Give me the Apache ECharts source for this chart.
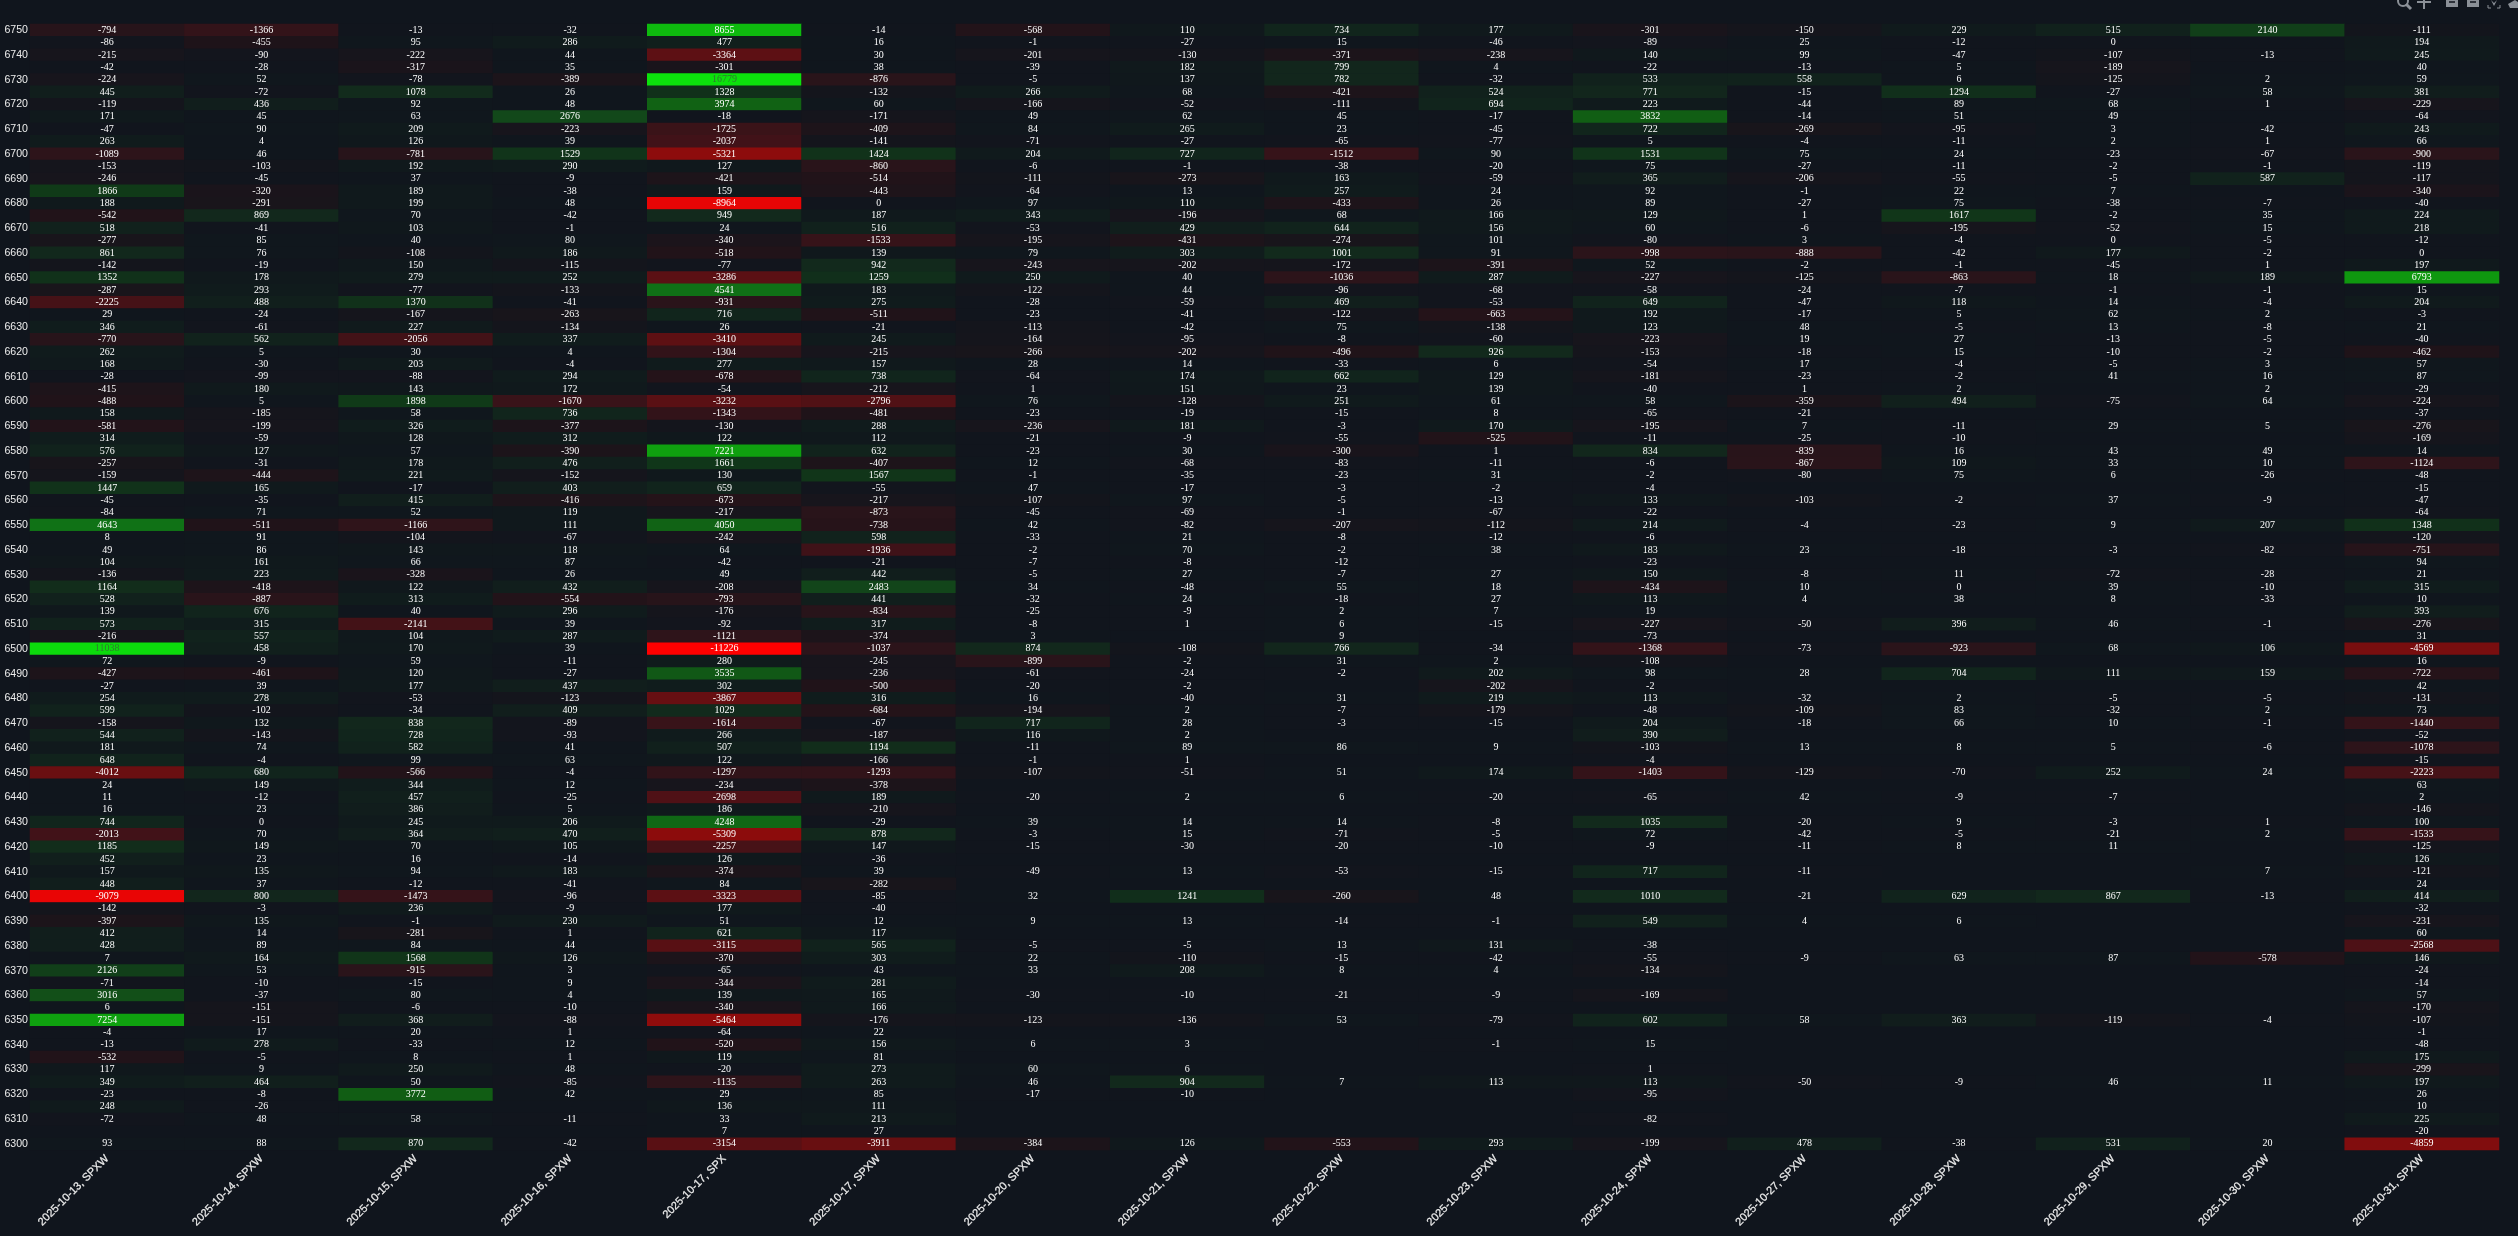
<!DOCTYPE html>
<html>
<head>
<meta charset="utf-8">
<style>html,body{margin:0;padding:0;background:#10151d;}#c{width:2518px;height:1236px;}</style>
<script src="https://cdn.jsdelivr.net/npm/echarts@6/dist/echarts.min.js"></script>
</head>
<body>
<div id="c"></div>
<script>
const _ = null;
const expiries = ["2025-10-13, SPXW","2025-10-14, SPXW","2025-10-15, SPXW","2025-10-16, SPXW","2025-10-17, SPX","2025-10-17, SPXW","2025-10-20, SPXW","2025-10-21, SPXW","2025-10-22, SPXW","2025-10-23, SPXW","2025-10-24, SPXW","2025-10-27, SPXW","2025-10-28, SPXW","2025-10-29, SPXW","2025-10-30, SPXW","2025-10-31, SPXW"];
const strikes = [6750,6745,6740,6735,6730,6725,6720,6715,6710,6705,6700,6695,6690,6685,6680,6675,6670,6665,6660,6655,6650,6645,6640,6635,6630,6625,6620,6615,6610,6605,6600,6595,6590,6585,6580,6575,6570,6565,6560,6555,6550,6545,6540,6535,6530,6525,6520,6515,6510,6505,6500,6495,6490,6485,6480,6475,6470,6465,6460,6455,6450,6445,6440,6435,6430,6425,6420,6415,6410,6405,6400,6395,6390,6385,6380,6375,6370,6365,6360,6355,6350,6345,6340,6335,6330,6325,6320,6315,6310,6305,6300];
const col1013 = [-794,-86,-215,-42,-224,445,-119,171,-47,263,-1089,-153,-246,1866,188,-542,518,-277,861,-142,1352,-287,-2225,29,346,-770,262,168,-28,-415,-488,158,-581,314,576,-257,-159,1447,-45,-84,4643,8,49,104,-136,1164,528,139,573,-216,11038,72,-427,-27,254,599,-158,544,181,648,-4012,24,11,16,744,-2013,1185,452,157,448,-9079,-142,-397,412,428,7,2126,-71,3016,6,7254,-4,-13,-532,117,349,-23,248,-72,_,93];
const col1014 = [-1366,-455,-90,-28,52,-72,436,45,90,4,46,-103,-45,-320,-291,869,-41,85,76,-19,178,293,488,-24,-61,562,5,-30,-99,180,5,-185,-199,-59,127,-31,-444,165,-35,71,-511,91,86,161,223,-418,-887,676,315,557,458,-9,-461,39,278,-102,132,-143,74,-4,680,149,-12,23,0,70,149,23,135,37,800,-3,135,14,89,164,53,-10,-37,-151,-151,17,278,-5,9,464,-8,-26,48,_,88];
const col1015 = [-13,95,-222,-317,-78,1078,92,63,209,126,-781,192,37,189,199,70,103,40,-108,150,279,-77,1370,-167,227,-2056,30,203,-88,143,1898,58,326,128,57,178,221,-17,415,52,-1166,-104,143,66,-328,122,313,40,-2141,104,170,59,120,177,-53,-34,838,728,582,99,-566,344,457,386,245,364,70,16,94,-12,-1473,236,-1,-281,84,1568,-915,-15,80,-6,368,20,-33,8,250,50,3772,_,58,_,870];
const col1016 = [-32,286,44,35,-389,26,48,2676,-223,39,1529,290,-9,-38,48,-42,-1,80,186,-115,252,-133,-41,-263,-134,337,4,-4,294,172,-1670,736,-377,312,-390,476,-152,403,-416,119,111,-67,118,87,26,432,-554,296,39,287,39,-11,-27,437,-123,409,-89,-93,41,63,-4,12,-25,5,206,470,105,-14,183,-41,-96,-9,230,1,44,126,3,9,4,-10,-88,1,12,1,48,-85,42,_,-11,_,-42];
const col1017x = [8655,477,-3364,-301,16779,1328,3974,-18,-1725,-2037,-5321,127,-421,159,-8964,949,24,-340,-518,-77,-3286,4541,-931,716,26,-3410,-1304,277,-678,-54,-3232,-1343,-130,122,7221,1661,130,659,-673,-217,4050,-242,64,-42,49,-208,-793,-176,-92,-1121,-11226,280,3535,302,-3867,1029,-1614,266,507,122,-1297,-234,-2698,186,4248,-5309,-2257,126,-374,84,-3323,177,51,621,-3115,-370,-65,-344,139,-340,-5464,-64,-520,119,-20,-1135,29,136,33,7,-3154];
const col1017w = [-14,16,30,38,-876,-132,60,-171,-409,-141,1424,-860,-514,-443,0,187,516,-1533,139,942,1259,183,275,-511,-21,245,-215,157,738,-212,-2796,-481,288,112,632,-407,1567,-55,-217,-873,-738,598,-1936,-21,442,2483,441,-834,317,-374,-1037,-245,-236,-500,316,-684,-67,-187,1194,-166,-1293,-378,189,-210,-29,878,147,-36,39,-282,-85,-40,12,117,565,303,43,281,165,166,-176,22,156,81,273,263,85,111,213,27,-3911];
const col1020 = [-568,-1,-201,-39,-5,266,-166,49,84,-71,204,-6,-111,-64,97,343,-53,-195,79,-243,250,-122,-28,-23,-113,-164,-266,28,-64,1,76,-23,-236,-21,-23,12,-1,47,-107,-45,42,-33,-2,-7,-5,34,-32,-25,-8,3,874,-899,-61,-20,16,-194,717,116,-11,-1,-107,_,-20,_,39,-3,-15,_,-49,_,32,_,9,_,-5,22,33,_,-30,_,-123,_,6,_,60,46,-17,_,_,_,-384];
const col1021 = [110,-27,-130,182,137,68,-52,62,265,-27,727,-1,-273,13,110,-196,429,-431,303,-202,40,44,-59,-41,-42,-95,-202,14,174,151,-128,-19,181,-9,30,-68,-35,-17,97,-69,-82,21,70,-8,27,-48,24,-9,1,_,-108,-2,-24,-2,-40,2,28,2,89,1,-51,_,2,_,14,15,-30,_,13,_,1241,_,13,_,-5,-110,208,_,-10,_,-136,_,3,_,6,904,-10,_,_,_,126];
const col1022 = [734,15,-371,799,782,-421,-111,45,23,-65,-1512,-38,163,257,-433,68,644,-274,1001,-172,-1036,-96,469,-122,75,-8,-496,-33,662,23,251,-15,-3,-55,-300,-83,-23,-3,-5,-1,-207,-8,-2,-12,-7,55,-18,2,6,9,766,31,-2,_,31,-7,-3,_,86,_,51,_,6,_,14,-71,-20,_,-53,_,-260,_,-14,_,13,-15,8,_,-21,_,53,_,_,_,_,7,_,_,_,_,-553];
const col1023 = [177,-46,-238,4,-32,524,694,-17,-45,-77,90,-20,-59,24,26,166,156,101,91,-391,287,-68,-53,-663,-138,-60,926,6,129,139,61,8,170,-525,1,-11,31,-2,-13,-67,-112,-12,38,_,27,18,27,7,-15,_,-34,2,202,-202,219,-179,-15,_,9,_,174,_,-20,_,-8,-5,-10,_,-15,_,48,_,-1,_,131,-42,4,_,-9,_,-79,_,-1,_,_,113,_,_,_,_,293];
const col1024 = [-301,-89,140,-22,533,771,223,3832,722,5,1531,75,365,92,89,129,60,-80,-998,52,-227,-58,649,192,123,-223,-153,-54,-181,-40,58,-65,-195,-11,834,-6,-2,-4,133,-22,214,-6,183,-23,150,-434,113,19,-227,-73,-1368,-108,98,-2,113,-48,204,390,-103,-4,-1403,_,-65,_,1035,72,-9,_,717,_,1010,_,549,_,-38,-55,-134,_,-169,_,602,_,15,_,1,113,-95,_,-82,_,-199];
const col1027 = [-150,25,99,-13,558,-15,-44,-14,-269,-4,75,-27,-206,-1,-27,1,-6,3,-888,-2,-125,-24,-47,-17,48,19,-18,17,-23,1,-359,-21,7,-25,-839,-867,-80,_,-103,_,-4,_,23,_,-8,10,4,_,-50,_,-73,_,28,_,-32,-109,-18,_,13,_,-129,_,42,_,-20,-42,-11,_,-11,_,-21,_,4,_,_,-9,_,_,_,_,58,_,_,_,_,-50,_,_,_,_,478];
const col1028 = [229,-12,-47,5,6,1294,89,51,-95,-11,24,-11,-55,22,75,1617,-195,-4,-42,-1,-863,-7,118,5,-5,27,15,-4,-2,2,494,_,-11,-10,16,109,75,_,-2,_,-23,_,-18,_,11,0,38,_,396,_,-923,_,704,_,2,83,66,_,8,_,-70,_,-9,_,9,-5,8,_,_,_,629,_,6,_,_,63,_,_,_,_,363,_,_,_,_,-9,_,_,_,_,-38];
const col1029 = [515,0,-107,-189,-125,-27,68,49,3,2,-23,-2,-5,7,-38,-2,-52,0,177,-45,18,-1,14,62,13,-13,-10,-5,41,_,-75,_,29,_,43,33,6,_,37,_,9,_,-3,_,-72,39,8,_,46,_,68,_,111,_,-5,-32,10,_,5,_,252,_,-7,_,-3,-21,11,_,_,_,867,_,_,_,_,87,_,_,_,_,-119,_,_,_,_,46,_,_,_,_,531];
const col1030 = [2140,_,-13,_,2,58,1,_,-42,1,-67,-1,587,_,-7,35,15,-5,-2,1,189,-1,-4,2,-8,-5,-2,3,16,2,64,_,5,_,49,10,-26,_,-9,_,207,_,-82,_,-28,-10,-33,_,-1,_,106,_,159,_,-5,2,-1,_,-6,_,24,_,_,_,1,2,_,_,7,_,-13,_,_,_,_,-578,_,_,_,_,-4,_,_,_,_,11,_,_,_,_,20];
const col1031 = [-111,194,245,40,59,381,-229,-64,243,66,-900,-119,-117,-340,-40,224,218,-12,0,197,6793,15,204,-3,21,-40,-462,57,87,-29,-224,-37,-276,-169,14,-1124,-48,-15,-47,-64,1348,-120,-751,94,21,315,10,393,-276,31,-4569,16,-722,42,-131,73,-1440,-52,-1078,-15,-2223,63,2,-146,100,-1533,-125,126,-121,24,414,-32,-231,60,-2568,146,-24,-14,57,-170,-107,-1,-48,175,-299,197,26,10,225,-20,-4859];
const columns = [col1013,col1014,col1015,col1016,col1017x,col1017w,col1020,col1021,col1022,col1023,col1024,col1027,col1028,col1029,col1030,col1031];

// Colour scale stops: [value, r, g, b]
const stops = [[-11226,255,0,0],[-9000,232,5,5],[-5300,140,12,12],[-4000,106,15,17],[-3300,92,16,20],[-2200,69,18,23],[-1500,53,19,25],[-1000,44,20,26],[-500,32,19,25],[-200,22,21,28],[0,16,21,29],[200,16,25,28],[500,17,32,28],[1000,18,42,28],[1866,16,58,24],[2676,18,72,26],[3832,17,94,20],[4541,16,112,22],[6793,15,152,15],[8655,14,186,14],[11038,12,218,12],[16779,12,226,12]];
const vMin = -11226, vMax = 16779, rampSize = 561;
function ramp(){
  const out = [];
  for (let i = 0; i < rampSize; i++){
    const v = vMin + (vMax - vMin) * i / (rampSize - 1);
    let k = 0;
    while (k < stops.length - 2 && v > stops[k + 1][0]) k++;
    const a = stops[k], b = stops[k + 1], t = (v - a[0]) / (b[0] - a[0]);
    const c = [1,2,3].map(j => Math.round(a[j] + (b[j] - a[j]) * t));
    out.push('rgb(' + c.join(',') + ')');
  }
  return out;
}
const cells = [];
columns.forEach((col, x) => col.forEach((v, y) => {
  if (v === null) return;
  const item = {value: [x, y, v]};
  if (v > 10000) item.label = {color: '#2f7a2f'};
  cells.push(item);
}));

const icon = '#8b9097';
const axisFont = '"Liberation Sans", Arial, sans-serif';
const chart = echarts.init(document.getElementById('c'), null, {renderer: 'canvas'});
chart.setOption({
  animation: false,
  backgroundColor: '#10151d',
  grid: {left: 30, top: 24, width: 2469, height: 1126, containLabel: false},
  xAxis: {
    type: 'category', data: expiries, position: 'bottom',
    axisLine: {show: false}, axisTick: {show: false}, splitLine: {show: false},
    axisLabel: {interval: 0, rotate: 45, margin: 7, color: '#ececec', fontFamily: axisFont, fontSize: 11, textBorderColor: '#ececec', textBorderWidth: 0.25}
  },
  yAxis: {
    type: 'category', data: strikes, inverse: true,
    axisLine: {show: false}, axisTick: {show: false}, splitLine: {show: false},
    axisLabel: {interval: 1, margin: 2, color: '#ececec', fontFamily: axisFont, fontSize: 10.6}
  },
  visualMap: {type: 'continuous', show: false, min: vMin, max: vMax, dimension: 2, inRange: {color: ramp()}},
  series: [{
    type: 'heatmap', data: cells, progressive: 0,
    itemStyle: {borderWidth: 0},
    emphasis: {disabled: true},
    label: {show: true, color: '#ffffff', fontFamily: '"Liberation Serif", "Times New Roman", serif', fontSize: 10,
      formatter: p => String(p.value[2])}
  }],
  graphic: [
    {type: 'circle', shape: {cx: 2403, cy: 1, r: 5}, style: {fill: 'none', stroke: icon, lineWidth: 2}},
    {type: 'line', shape: {x1: 2406, y1: 4, x2: 2411, y2: 9}, style: {stroke: icon, lineWidth: 3}},
    {type: 'line', shape: {x1: 2424, y1: 0, x2: 2424, y2: 9}, style: {stroke: icon, lineWidth: 2}},
    {type: 'line', shape: {x1: 2417, y1: 2, x2: 2431, y2: 2}, style: {stroke: icon, lineWidth: 2}},
    {type: 'rect', shape: {x: 2446, y: 0, width: 12, height: 7}, style: {fill: icon}},
    {type: 'line', shape: {x1: 2449, y1: 2, x2: 2455, y2: 2}, style: {stroke: '#10151d', lineWidth: 1.5}},
    {type: 'rect', shape: {x: 2467, y: 0, width: 12, height: 7}, style: {fill: icon}},
    {type: 'line', shape: {x1: 2470, y1: 2, x2: 2476, y2: 2}, style: {stroke: '#10151d', lineWidth: 1.5}},
    {type: 'polyline', shape: {points: [[2488, 5], [2488, 8], [2491, 8]]}, style: {fill: 'none', stroke: icon, lineWidth: 1}},
    {type: 'polyline', shape: {points: [[2500, 5], [2500, 8], [2497, 8]]}, style: {fill: 'none', stroke: icon, lineWidth: 1}},
    {type: 'polygon', shape: {points: [[2491, 0], [2494, 3], [2497, 0], [2494, 6]]}, style: {fill: icon}},
    {type: 'polygon', shape: {points: [[2508, 4], [2515, 0], [2518, 2], [2518, 8], [2510, 8]]}, style: {fill: icon}}
  ]
});
</script>
</body>
</html>
